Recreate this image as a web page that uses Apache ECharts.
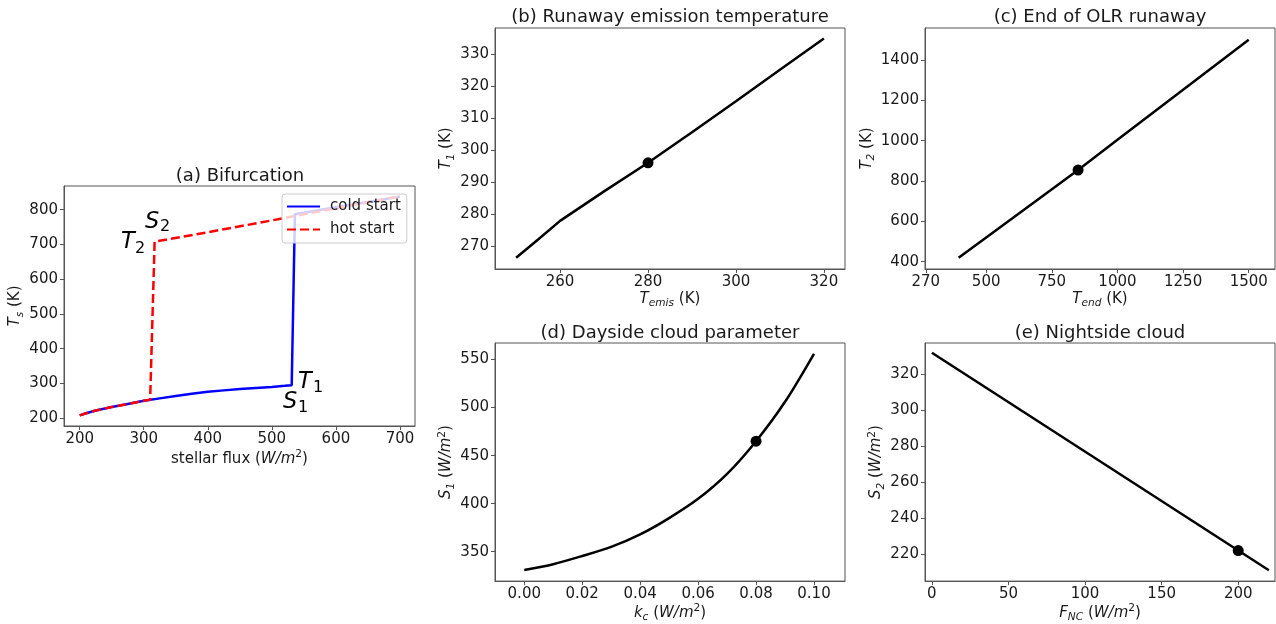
<!DOCTYPE html>
<html><head><meta charset="utf-8">
<script src="https://cdn.jsdelivr.net/npm/echarts@6/dist/echarts.min.js"></script>
<style>html,body{margin:0;padding:0;background:#fff}#c{width:1276px;height:624px}</style>
</head><body><div id="c"></div>
<script>
// ---------------- data ----------------
// (a) Bifurcation
const coldFlux = [200,210,225,250,275,300,325,350,375,400,425,450,475,500,520,531,536,550,600,650,700];
const coldTemp = [208,214,222,232,241,250,257,264,270,276,280,284,287,290,293,295,787,791,807,822,838];
const hotFlux  = [200,210,225,250,275,300,310,317,400,500,600,700];
const hotTemp  = [208,214,222,232,241,250,253,708,735,769,804,838];
const aXTicks = [200,300,400,500,600,700];
const aYTicks = [200,300,400,500,600,700,800];
// (b) Runaway emission temperature
const tEmis = [250,255,260,270,280,290,300,310,320];
const t1    = [266.5,272.2,278,287.2,296.1,305.6,315.3,325.1,334.8];
const bDot  = [280, 296.1];
const bXTicks = [260,280,300,320];
const bYTicks = [270,280,290,300,310,320,330];
// (c) End of OLR runaway
const tEnd = [395,600,850,1000,1250,1500];
const t2   = [420,615,854,1004,1252,1500];
const cDot = [850, 854];
const cXTicks = [270,500,750,1000,1250,1500];
const cYTicks = [400,600,800,1000,1200,1400];
// (d) Dayside cloud parameter
const kc = [0,0.01,0.02,0.03,0.04,0.05,0.06,0.07,0.08,0.09,0.10];
const s1 = [331,337,345.5,355,368,385,405,431,465,506,556];
const dDot = [0.08, 465];
const dXTicks = [0,0.02,0.04,0.06,0.08,0.10];
const dYTicks = [350,400,450,500,550];
// (e) Nightside cloud
const fnc = [0,220];
const s2  = [332,211];
const eDot = [200, 222];
const eXTicks = [0,50,100,150,200];
const eYTicks = [220,240,260,280,300,320];

// ---------------- chart ----------------
const FONT = 'DejaVu Sans';
const TXT = '#1a1a1a';
const SPINE = '#555';
const TICK = 15;
const zip = (a,b) => a.map((v,i)=>[v,b[i]]);

const rich = {
  n: {fontFamily: FONT, fontSize: 15, color: TXT, lineHeight: 20},
  i: {fontFamily: FONT, fontSize: 15, color: TXT, lineHeight: 20, fontStyle: 'italic'},
  s: {fontFamily: FONT, fontSize: 10.6, color: TXT, lineHeight: 10, fontStyle: 'italic', verticalAlign: 'bottom'},
  p: {fontFamily: FONT, fontSize: 10.6, color: TXT, lineHeight: 10, verticalAlign: 'top'}
};

const grids = [
  {left: 64,  top: 186, width: 351, height: 240},
  {left: 495, top: 28,  width: 350, height: 241},
  {left: 925, top: 28,  width: 350, height: 241},
  {left: 495, top: 343, width: 350, height: 241},
  {left: 925, top: 343, width: 350, height: 241}
].map(g => Object.assign({show: true, borderColor: SPINE, borderWidth: 1, backgroundColor: 'transparent', containLabel: false}, g));

function axis(gi, min, max, ticks, fmt, name, gap, isY) {
  return {
    type: 'value', gridIndex: gi, min: min, max: max,
    splitLine: {show: false},
    axisLine: {show: true, onZero: false, lineStyle: {color: SPINE, width: 1}},
    axisTick: {show: true, inside: false, length: 4, customValues: ticks, lineStyle: {color: SPINE}},
    axisLabel: {customValues: ticks, formatter: fmt, margin: 6, fontFamily: FONT, fontSize: TICK, color: TXT},
    name: name, nameLocation: 'middle', nameGap: gap, nameRotate: isY ? 90 : 0,
    nameTextStyle: {fontFamily: FONT, fontSize: 15, color: TXT, rich: rich}
  };
}
const plain = v => String(v);
const xAxes = [
  axis(0, 175.5, 723.5, aXTicks, plain, '{n|stellar flux (}{i|W/m}{p|2}{n|)}', 23, false),
  axis(1, 245.2, 324.8, bXTicks, plain, '{i|T}{s|emis}{n| (K)}', 20, false),
  axis(2, 267, 1600, cXTicks, plain, '{i|T}{s|end}{n| (K)}', 20, false),
  axis(3, -0.0101, 0.1107, dXTicks, v => Number(v).toFixed(2), '{i|k}{s|c}{n| (}{i|W/m}{p|2}{n|)}', 21, false),
  axis(4, -4.5, 224, eXTicks, plain, '{i|F}{s|NC}{n| (}{i|W/m}{p|2}{n|)}', 21, false)
];
const yAxes = [
  axis(0, 177.5, 868, aYTicks, plain, '{i|T}{s|s}{n| (K)}', 37, true),
  axis(1, 263, 338.1, bYTicks, plain, '{i|T}{s|1}{n| (K)}', 37, true),
  axis(2, 364, 1558, cYTicks, plain, '{i|T}{s|2}{n| (K)}', 47, true),
  axis(3, 319.4, 567.2, dYTicks, plain, '{i|S}{s|1}{n| (}{i|W/m}{p|2}{n|)}', 38, true),
  axis(4, 205, 337.4, eYTicks, plain, '{i|S}{s|2}{n| (}{i|W/m}{p|2}{n|)}', 38, true)
];

function blackLine(i, xs, ys, smooth) {
  return {type: 'line', xAxisIndex: i, yAxisIndex: i, data: zip(xs, ys), symbol: 'none', showSymbol: false,
    smooth: smooth || false,
    lineStyle: {color: '#000', width: 2.5}, z: 3, animation: false, silent: true};
}
function dot(i, p) {
  return {type: 'scatter', xAxisIndex: i, yAxisIndex: i, data: [p], symbol: 'circle', symbolSize: 11,
    itemStyle: {color: '#000', opacity: 1}, z: 4, animation: false, silent: true};
}

const series = [
  {name: 'cold start', type: 'line', xAxisIndex: 0, yAxisIndex: 0, data: zip(coldFlux, coldTemp),
   symbol: 'none', showSymbol: false,
   lineStyle: {color: '#0000ff', width: 2.5}, itemStyle: {color: '#0000ff'}, z: 2, animation: false},
  {name: 'hot start', type: 'line', xAxisIndex: 0, yAxisIndex: 0, data: zip(hotFlux, hotTemp),
   symbol: 'none', showSymbol: false,
   lineStyle: {color: '#ff0000', width: 2.5, type: [9, 4]}, itemStyle: {color: '#ff0000'}, z: 3, animation: false},
  blackLine(1, tEmis, t1), dot(1, bDot),
  blackLine(2, tEnd, t2), dot(2, cDot),
  blackLine(3, kc, s1, 0.3), dot(3, dDot),
  blackLine(4, fnc, s2), dot(4, eDot)
];

function title(x, y, t) {
  return {type: 'text', x: x, y: y, silent: true,
    style: {text: t, align: 'center', verticalAlign: 'middle', font: '18px "DejaVu Sans"', fill: TXT}};
}
function mathText(x, y, t, size, italic) {
  return {type: 'text', x: x, y: y, silent: true, z: 10,
    style: {text: t, align: 'left', verticalAlign: 'middle',
      font: (italic ? 'italic ' : '') + size + 'px "DejaVu Sans"', fill: '#000'}};
}

const graphic = [
  title(240, 176, '(a) Bifurcation'),
  title(670, 17, '(b) Runaway emission temperature'),
  title(1100, 17, '(c) End of OLR runaway'),
  title(670, 333, '(d) Dayside cloud parameter'),
  title(1100, 333, '(e) Nightside cloud'),
  mathText(145, 221.7, 'S', 22.5, true), mathText(160, 226.4, '2', 16, false),
  mathText(121, 241.7, 'T', 22.5, true), mathText(135, 249, '2', 16, false),
  mathText(298, 381.7, 'T', 22.5, true), mathText(313, 388, '1', 16, false),
  mathText(283, 402.4, 'S', 22.5, true), mathText(298, 408, '1', 16, false)
];

const chart = echarts.init(document.getElementById('c'), null, {renderer: 'canvas'});
chart.setOption({
  backgroundColor: '#fff',
  animation: false,
  grid: grids,
  xAxis: xAxes,
  yAxis: yAxes,
  series: series,
  legend: {
    data: ['cold start', 'hot start'],
    orient: 'vertical', left: 282, top: 194,
    padding: [4, 6, 5, 4],
    itemWidth: 33, itemHeight: 14, itemGap: 6,
    itemStyle: {opacity: 0},
    backgroundColor: 'rgba(255,255,255,0.8)', borderColor: '#cccccc', borderWidth: 1, borderRadius: 3,
    textStyle: {fontFamily: FONT, fontSize: 15, color: TXT, lineHeight: 17, padding: [0, 0, 0, 5]},
    selectedMode: false, z: 5
  },
  graphic: graphic
});
</script>
</body></html>
